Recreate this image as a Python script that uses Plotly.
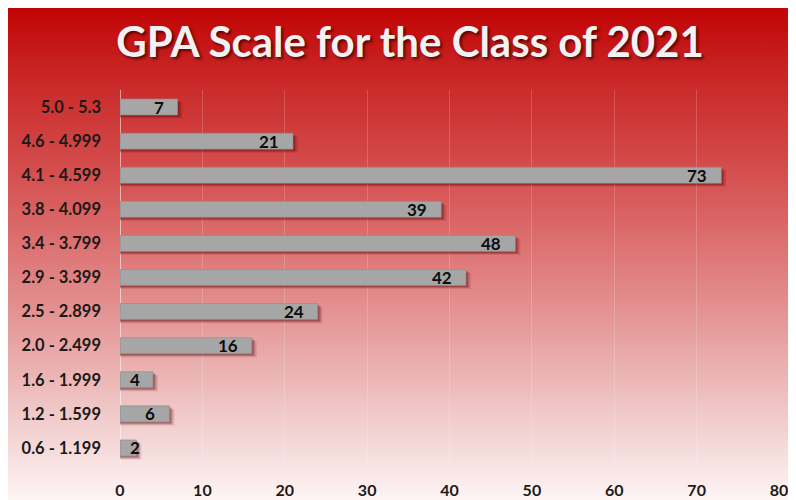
import base64
import plotly.graph_objects as go

# ---- data ----
categories = ["0.6 - 1.199", "1.2 - 1.599", "1.6 - 1.999", "2.0 - 2.499", "2.5 - 2.899",
              "2.9 - 3.399", "3.4 - 3.799", "3.8 - 4.099", "4.1 - 4.599", "4.6 - 4.999", "5.0 - 5.3"]
counts = [2, 6, 4, 16, 24, 42, 48, 39, 73, 21, 7]
x_ticks = [0, 10, 20, 30, 40, 50, 60, 70, 80]
title_text = "GPA Scale for the Class of 2021"

# page body has an 8px margin, so the figure is drawn 8px in from the window edge
W, H = 788, 492
L, R, T, B = 112, 17, 82, 35
pw, ph = W - L - R, H - T - B
XMAX = 80
FONT = "Lato, 'Open Sans', sans-serif"

svg = f'''<svg xmlns="http://www.w3.org/2000/svg" width="788" height="494" preserveAspectRatio="none">
<defs><linearGradient id="g" x1="0" y1="0" x2="0" y2="1">
<stop offset="0" stop-color="#C20404"/>
<stop offset="0.12" stop-color="#C82222"/>
<stop offset="0.35" stop-color="#D65252"/>
<stop offset="0.6" stop-color="#E38E8E"/>
<stop offset="0.82" stop-color="#F0C8C8"/>
<stop offset="1" stop-color="#FDF4F4"/>
</linearGradient></defs>
<rect width="788" height="494" fill="url(#g)"/></svg>'''
src = "data:image/svg+xml;base64," + base64.b64encode(svg.encode()).decode()

fig = go.Figure()

# soft shadow layers under bars
for dy, extra, alpha in [(-0.34, 0.6, 0.12), (-0.31, 0.4, 0.2), (-0.28, 0.22, 0.28)]:
    fig.add_trace(go.Bar(
        y=categories, x=[v + extra for v in counts], orientation="h",
        width=0.47, offset=dy, marker=dict(color=f"rgba(90,0,0,{alpha})", line=dict(width=0)),
        hoverinfo="skip", showlegend=False))

fig.add_trace(go.Bar(
    y=categories, x=counts, orientation="h", width=0.47,
    marker=dict(color="#A6A6A6", line=dict(color="#8C8C8C", width=0.6)),
    showlegend=False))

px_per = pw / XMAX
for c, v in zip(categories, counts):
    bar_end = v * px_per
    right = max(bar_end - 12, 22)
    fig.add_annotation(x=0, y=c, xref="x", yref="y", text=f"<b>{v}</b>",
                       xanchor="right", yanchor="middle", xshift=right, showarrow=False,
                       font=dict(family=FONT, size=17, color="#0D0D0D"))

fig.update_layout(
    width=W, height=H,
    margin=dict(l=L, r=R, t=T, b=B, autoexpand=False),
    paper_bgcolor="white", plot_bgcolor="rgba(0,0,0,0)",
    barmode="overlay",
    title=dict(text=f"<b>{title_text}</b>", x=402 / W, xanchor="center", y=1 - 34 / H, yanchor="middle",
               automargin=False,
               font=dict(family=FONT, size=42, color="#F2F2F2", shadow="2px 2px 3px rgba(60,0,0,0.8)")),
    images=[dict(source=src, xref="paper", yref="paper",
                 x=-L / pw, y=1 + T / ph, sizex=W / pw, sizey=H / ph,
                 xanchor="left", yanchor="top", sizing="stretch", layer="below")],
    xaxis=dict(range=[0, XMAX], tickvals=x_ticks, showgrid=True, gridcolor="rgba(255,255,255,0.18)",
               gridwidth=1, zeroline=False, showline=False, ticks="", automargin=False,
               tickfont=dict(family=FONT, size=16, color="#1A1A1A", weight="bold"),
               ticklabelstandoff=14, fixedrange=True),
    yaxis=dict(categoryorder="array", categoryarray=categories, showgrid=False, zeroline=False,
               showline=False, ticks="", range=[-0.5, len(categories) - 0.5], automargin=False,
               tickfont=dict(family=FONT, size=16.5, color="#1A1A1A", weight="bold"),
               ticklabelstandoff=18, fixedrange=True),
    shapes=[dict(type="line", xref="x", yref="paper", x0=0, x1=0, y0=0, y1=1,
                 line=dict(color="rgba(255,255,255,0.55)", width=2), layer="below")],
)

fig.write_html("out.html")
